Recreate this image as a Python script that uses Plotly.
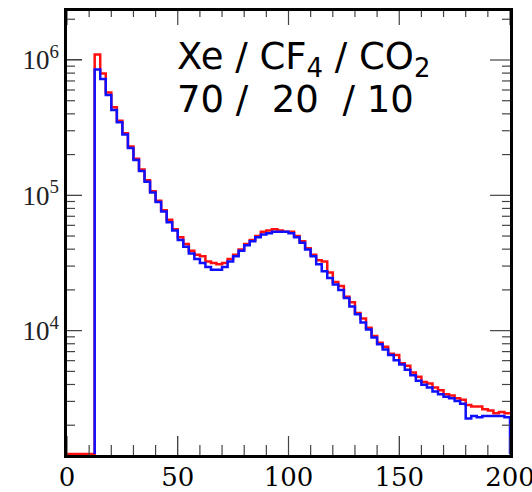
import math
import plotly.graph_objects as go

# Histogram: bins of width 2.5 starting at 12.5 up to 200
bin_start = 12.5
bin_width = 2.5
floor_count = 1225  # histogram drawn at the bottom of the frame where empty

red_counts = [
    1096000, 794000, 575000, 447000, 355000, 288000, 229000, 186000, 155000, 129000,
    107000, 91200, 77600, 66100, 56200, 49000, 43700, 38900, 36300, 35500,
    32400, 31600, 30900, 31600, 33900, 36300, 39800, 43700, 46800, 50100,
    53700, 55000, 56200, 55000, 53700, 53700, 50100, 45700, 40700, 36300,
    33100, 32400, 26900, 22900, 21400, 17800, 16200, 13500, 12300, 10500,
    9120, 8130, 7590, 6760, 6610, 5750, 5500, 4900, 4570, 4170,
    4070, 3800, 3630, 3390, 3310, 3160, 3090, 2820, 2750, 2750,
    2630, 2570, 2450, 2510, 2450,
]

blue_counts = [
    851000, 724000, 550000, 427000, 347000, 282000, 224000, 182000, 151000, 126000,
    105000, 89100, 75900, 63100, 55000, 46800, 41700, 37200, 33900, 31600,
    29500, 28200, 28200, 29500, 32400, 35500, 38900, 42700, 45700, 49000,
    51300, 52500, 53700, 53700, 53700, 52500, 49000, 44700, 39800, 35500,
    30900, 27500, 24500, 21900, 20000, 17400, 15100, 13200, 11500, 10200,
    8910, 7940, 7240, 6610, 6030, 5620, 5130, 4680, 4270, 3980,
    3800, 3550, 3390, 3240, 3160, 3020, 2880, 2240, 2340, 2290,
    2340, 2340, 2340, 2340, 2290,
]

assert len(red_counts) == 75 and len(blue_counts) == 75

x_ticks = [0, 50, 100, 150, 200]
x_minor_step = 10
y_ticks = [1e4, 1e5, 1e6]
y_ticktext = ["10<sup>4</sup>", "10<sup>5</sup>", "10<sup>6</sup>"]

X_RANGE = [0, 200]
Y_RANGE_LOG = [3.081, 6.362]

edges = [bin_start + bin_width * i for i in range(len(red_counts) + 1)]

rx = [0, edges[0]] + edges[1:-1] + [edges[-1]]
ry = [floor_count] + red_counts + [red_counts[-1]]
bx = [edges[0]] + edges[:-1] + [edges[-1], edges[-1]]
by = [floor_count] + blue_counts + [blue_counts[-1], floor_count]

W, H = 532, 492
ML, MR, MT, MB = 67, 22, 11, 37
PW, PH = W - ML - MR, H - MT - MB

fig = go.Figure()
fig.add_trace(go.Scatter(x=rx, y=ry, mode="lines", line=dict(color="#ff1010", width=2.5, shape="hv"),
                         showlegend=False))
fig.add_trace(go.Scatter(x=bx, y=by, mode="lines", line=dict(color="#1010ff", width=2.5, shape="hv"),
                         showlegend=False))

fig.update_layout(
    width=W, height=H,
    margin=dict(l=ML, r=MR, t=MT, b=MB, autoexpand=False),
    paper_bgcolor="white", plot_bgcolor="white",
    showlegend=False,
    template="none",
)

fig.update_layout(
    xaxis=dict(range=X_RANGE, tickvals=x_ticks, ticktext=[str(v) for v in x_ticks],
               ticks="inside", ticklen=19, tickwidth=1, tickcolor="#444",
               showgrid=False, zeroline=False, automargin=False,
               showline=True, linewidth=2.5, linecolor="black", mirror=True,
               tickfont=dict(family="DejaVu Serif", size=26, color="black"),
               ticklabeloverflow="allow", ticklabelstandoff=-3),
    yaxis=dict(type="log", range=Y_RANGE_LOG, tickvals=y_ticks, ticktext=y_ticktext,
               ticks="inside", ticklen=15, tickwidth=1, tickcolor="#444",
               showgrid=False, zeroline=False, automargin=False,
               showline=True, linewidth=2.5, linecolor="black", mirror=True,
               tickfont=dict(family="Liberation Serif", size=27, color="#222")),
)

# tick marks on all four sides (drawn as shapes so they are always visible)
tick_style = dict(color="#444", width=1.2)
shapes = []
x_major = set(x_ticks)
x_minor = [v for v in range(X_RANGE[0], X_RANGE[1] + 1, x_minor_step) if v not in x_major]
for v, bottom_len, top_len in ([(t, 19, 14) for t in x_ticks] + [(t, 10, 6) for t in x_minor]):
    shapes.append(dict(type="line", xref="x", yref="y domain", x0=v, x1=v, y0=0, y1=bottom_len / PH,
                       line=tick_style))
    shapes.append(dict(type="line", xref="x", yref="y domain", x0=v, x1=v, y0=1, y1=1 - top_len / PH,
                       line=tick_style))
y_minor = []
for e in range(math.floor(Y_RANGE_LOG[0]), math.ceil(Y_RANGE_LOG[1])):
    for m in range(2, 10):
        val = m * 10 ** e
        if Y_RANGE_LOG[0] <= math.log10(val) <= Y_RANGE_LOG[1]:
            y_minor.append(val)
for v, left_len, right_len in ([(t, 15, 20) for t in y_ticks] + [(t, 8, 8) for t in y_minor]):
    shapes.append(dict(type="line", xref="x domain", yref="y", x0=0, x1=left_len / PW, y0=v, y1=v,
                       line=tick_style))
    shapes.append(dict(type="line", xref="x domain", yref="y", x0=1, x1=1 - right_len / PW, y0=v, y1=v,
                       line=tick_style))
fig.update_layout(shapes=shapes)

fig.add_annotation(xref="paper", yref="paper", x=0.243, y=0.892, xanchor="left", yanchor="middle",
                   text="Xe / CF<sub>4</sub> / CO<sub>2</sub>", showarrow=False,
                   font=dict(family="DejaVu Sans", size=37, color="black"))
fig.add_annotation(xref="paper", yref="paper", x=0.243, y=0.80, xanchor="left", yanchor="middle",
                   text="70 /&nbsp; 20&nbsp; / 10", showarrow=False,
                   font=dict(family="DejaVu Sans", size=37, color="black"))

fig.write_html("out.html")
